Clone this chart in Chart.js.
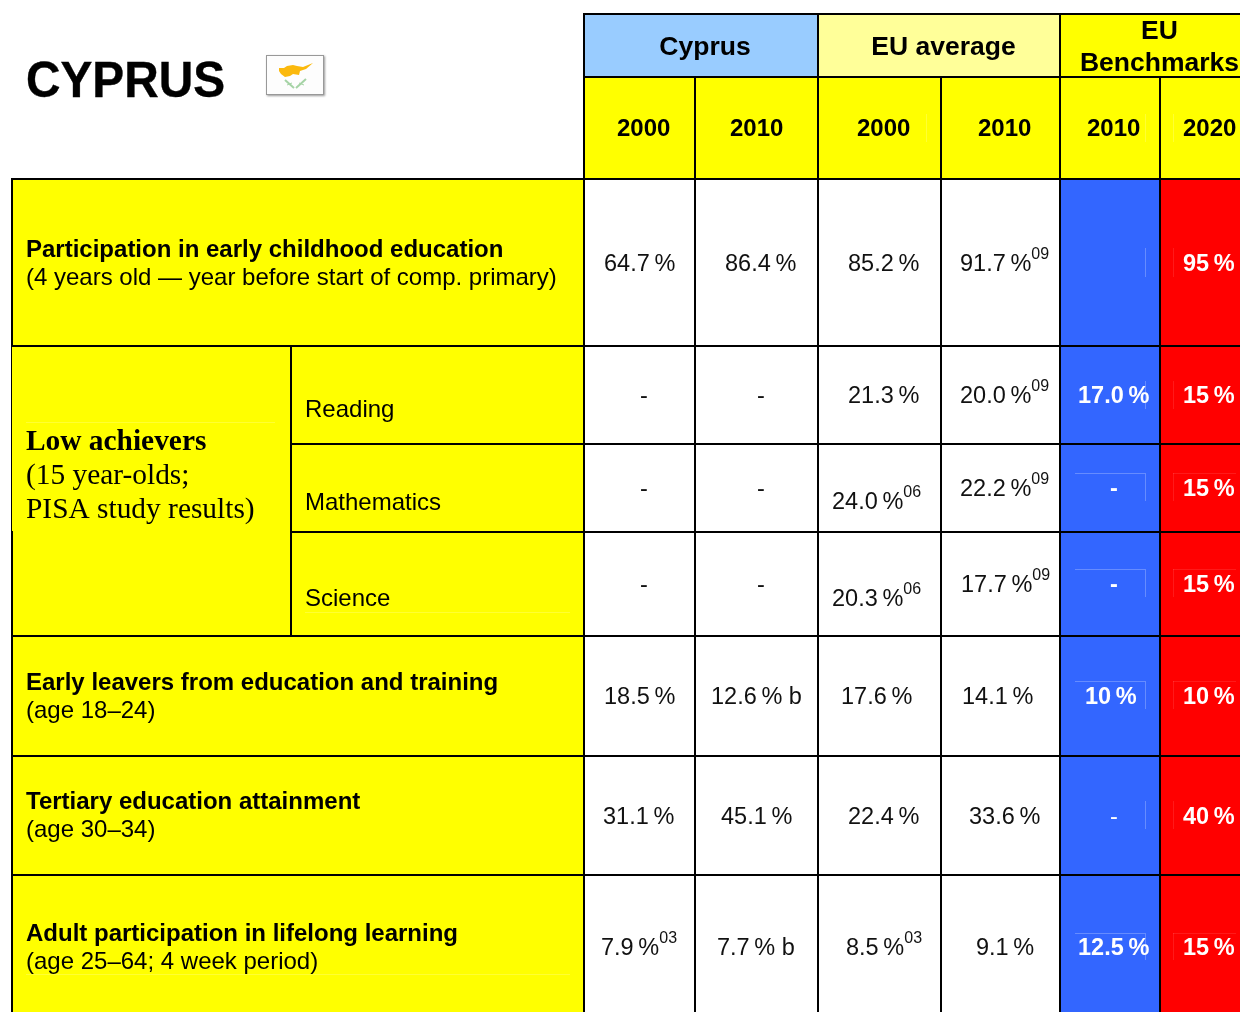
<!DOCTYPE html>
<html>
<head>
<meta charset="utf-8">
<title>Cyprus</title>
<script src="https://cdn.jsdelivr.net/npm/chart.js@4"></script>
<style>
html, body { margin: 0; padding: 0; background: #fff; overflow: hidden; }
canvas { display: block; }
</style>
</head>
<body>
<canvas id="chart" width="1240" height="1012"></canvas>
<script>
// table values, top row to bottom row. ^ marks the footnote year
const cyprus2000 = ['64.7\u2009%', '-', '-', '-', '18.5\u2009%', '31.1\u2009%', '7.9\u2009%^03'];
const cyprus2010 = ['86.4\u2009%', '-', '-', '-', '12.6\u2009% b', '45.1\u2009%', '7.7\u2009% b'];
const eu2000 = ['85.2\u2009%', '21.3\u2009%', '24.0\u2009%^06', '20.3\u2009%^06', '17.6\u2009%', '22.4\u2009%', '8.5\u2009%^03'];
const eu2010 = ['91.7\u2009%^09', '20.0\u2009%^09', '22.2\u2009%^09', '17.7\u2009%^09', '14.1\u2009%', '33.6\u2009%', '9.1\u2009%'];
const bench2010 = ['', '17.0\u2009%', '-', '-', '10\u2009%', '-', '12.5\u2009%'];
const bench2020 = ['95\u2009%', '15\u2009%', '15\u2009%', '15\u2009%', '10\u2009%', '40\u2009%', '15\u2009%'];
const yearLabels = ['2000', '2010', '2000', '2010', '2010', '2020'];
const groupLabels = ['Cyprus', 'EU average'];
const categories = [
    ['Participation in early childhood education', '(4 years old \u2014 year before start of comp. primary)'],
    ['Early leavers from education and training', '(age 18\u201324)'],
    ['Tertiary education attainment', '(age 30\u201334)'],
    ['Adult participation in lifelong learning', '(age 25\u201364; 4 week period)']
];
const subjects = ['Reading', 'Mathematics', 'Science'];

// table layout, in scale units
const colEdges = [12, 291, 584, 695, 818, 941, 1060, 1160, 1240];
const rowEdges = [14, 77, 179, 346, 444, 532, 636, 756, 875, 1012];

// left edge of the text in each value column, per row
const textLeft = [
    [604, 640, 640, 640, 604, 603, 601],
    [725, 757, 757, 757, 711, 721, 717],
    [848, 848, 832, 832, 841, 848, 846],
    [960, 960, 960, 961, 962, 969, 976],
    [1078, 1078, 1110, 1110, 1085, 1110, 1078],
    [1183, 1183, 1183, 1183, 1183, 1183, 1183]
];
const yearLeft = [617, 730, 857, 978, 1087, 1183];
const rowBaseline = [271, 403, 496, 592, 704, 824, 955];
const eu2000Baseline = [271, 403, 509, 606, 704, 824, 955];
const categoryBaseline = [[257, 285], [690, 718], [809, 837], [941, 969]];
const subjectBaseline = [417, 510, 606];

const colors = { cyprus: '#99ccff', euAvg: '#ffff99', yellow: '#ffff00', blue: '#3366ff', red: '#ff0000', white: '#ffffff' };

const valueColumns = [cyprus2000, cyprus2010, eu2000, eu2010, bench2010, bench2020];
const datasets = [];

function addCell(c1, c2, r1, r2, color) {
    datasets.push({
        data: [{ x: (colEdges[c1] + colEdges[c2]) / 2, y: [rowEdges[r1], rowEdges[r2]] }],
        barThickness: colEdges[c2] - colEdges[c1],
        backgroundColor: color,
        borderWidth: 0
    });
}

// header
addCell(2, 4, 0, 1, colors.cyprus);
addCell(4, 6, 0, 1, colors.euAvg);
addCell(6, 8, 0, 1, colors.yellow);
addCell(2, 8, 1, 2, colors.yellow);
// left hand labels
addCell(0, 2, 2, 3, colors.yellow);
addCell(0, 1, 3, 6, colors.yellow);
addCell(1, 2, 3, 4, colors.yellow);
addCell(1, 2, 4, 5, colors.yellow);
addCell(1, 2, 5, 6, colors.yellow);
addCell(0, 2, 6, 7, colors.yellow);
addCell(0, 2, 7, 8, colors.yellow);
addCell(0, 2, 8, 9, colors.yellow);
// value cells
valueColumns.forEach((col, i) => {
    col.forEach((v, j) => {
        let fill = colors.white;
        if (i == 4) fill = colors.blue;
        if (i == 5) fill = colors.red;
        addCell(i + 2, i + 3, j + 2, j + 3, fill);
    });
});

const tablePlugin = {
    id: 'table',
    afterDatasetsDraw(chart) {
        const ctx = chart.ctx;
        const sx = v => chart.scales.x.getPixelForValue(v);
        const sy = v => chart.scales.y.getPixelForValue(v);

        function seg(x1, y1, x2, y2, color, w) {
            ctx.strokeStyle = color;
            ctx.lineWidth = w;
            ctx.beginPath();
            ctx.moveTo(sx(x1), sy(y1));
            ctx.lineTo(sx(x2), sy(y2));
            ctx.stroke();
        }

        // scan marks left in the original cells
        const faintBlue = 'rgba(255,255,255,0.25)';
        const faintRed = 'rgba(255,255,255,0.1)';
        const faintYellow = 'rgba(255,255,255,0.2)';
        [[114, 142], [248, 277], [381, 409], [473, 501], [569, 597], [681, 709], [801, 829], [933, 960]].forEach((s, i) => {
            if (i == 0) {
                seg(926.5, s[0], 926.5, s[1], faintYellow, 1);
                seg(1145.5, s[0], 1145.5, s[1], faintYellow, 1);
                seg(1173.5, s[0], 1173.5, s[1], faintYellow, 1);
                return;
            }
            seg(1145.5, s[0], 1145.5, s[1], faintBlue, 1);
            seg(1173.5, s[0], 1173.5, s[1], faintRed, 1);
            if ([3, 4, 5, 7].includes(i)) {
                seg(1075, s[0] + 0.5, 1145, s[0] + 0.5, faintBlue, 1);
                seg(1173, s[0] + 0.5, 1236, s[0] + 0.5, faintRed, 1);
            }
        });
        seg(26, 422.5, 275, 422.5, faintYellow, 1);
        seg(305, 612.5, 570, 612.5, faintYellow, 1);
        seg(26, 974.5, 570, 974.5, faintYellow, 1);

        // black rules
        const last = colEdges.length - 1;
        seg(colEdges[2], rowEdges[0], colEdges[last], rowEdges[0], '#000', 2);
        seg(colEdges[2], rowEdges[1], colEdges[last], rowEdges[1], '#000', 2);
        seg(colEdges[0], rowEdges[2], colEdges[last], rowEdges[2], '#000', 2);
        [3, 6, 7, 8].forEach(r => seg(colEdges[0], rowEdges[r], colEdges[last], rowEdges[r], '#000', 2));
        [4, 5].forEach(r => seg(colEdges[1], rowEdges[r], colEdges[last], rowEdges[r], '#000', 2));
        // left border is thinner beside the low achievers text
        seg(colEdges[0], rowEdges[2] - 1, colEdges[0], rowEdges[3], '#000', 2);
        seg(colEdges[0] - 0.5, rowEdges[3], colEdges[0] - 0.5, 531, '#000', 1);
        seg(colEdges[0], 531, colEdges[0], rowEdges[9], '#000', 2);
        seg(colEdges[1], rowEdges[3], colEdges[1], rowEdges[6], '#000', 2);
        seg(colEdges[2], rowEdges[0] - 1, colEdges[2], rowEdges[9], '#000', 2);
        seg(colEdges[4], rowEdges[0], colEdges[4], rowEdges[9], '#000', 2);
        seg(colEdges[6], rowEdges[0], colEdges[6], rowEdges[9], '#000', 2);
        [3, 5, 7].forEach(c => seg(colEdges[c], rowEdges[1], colEdges[c], rowEdges[9], '#000', 2));

        // text
        ctx.textBaseline = 'alphabetic';
        function txt(s, x, y, font, color, align) {
            ctx.font = font;
            ctx.fillStyle = color;
            ctx.textAlign = align || 'left';
            ctx.fillText(s, sx(x), sy(y));
        }

        const sans = '"Liberation Sans", Arial, sans-serif';
        const serif = '"Liberation Serif", "Times New Roman", serif';

        // the title is a bit narrower and heavier than plain bold
        ctx.save();
        ctx.translate(sx(26), sy(97));
        ctx.scale(0.955, 1);
        ctx.font = 'bold 50px ' + sans;
        ctx.fillStyle = '#000';
        ctx.strokeStyle = '#000';
        ctx.lineWidth = 0.4;
        ctx.textAlign = 'left';
        ctx.fillText('CYPRUS', 0, 0);
        ctx.strokeText('CYPRUS', 0, 0);
        ctx.restore();

        txt(groupLabels[0], 705, 55, 'bold 26.5px ' + sans, '#000', 'center');
        txt(groupLabels[1], 943.5, 55, 'bold 26.5px ' + sans, '#000', 'center');
        txt('EU', 1159.5, 39, 'bold 26.5px ' + sans, '#000', 'center');
        txt('Benchmarks', 1159.5, 71, 'bold 26.5px ' + sans, '#000', 'center');
        yearLabels.forEach((y, i) => txt(y, yearLeft[i], 136, 'bold 24px ' + sans, '#000'));

        categories.forEach((c, i) => {
            txt(c[0], 26, categoryBaseline[i][0], 'bold 24px ' + sans, '#000');
            txt(c[1], 26, categoryBaseline[i][1], '24px ' + sans, '#000');
        });
        subjects.forEach((s, i) => txt(s, 305, subjectBaseline[i], '24px ' + sans, '#000'));
        txt('Low achievers', 26, 450, 'bold 29.4px ' + serif, '#000');
        txt('(15 year-olds;', 26, 484, '29.4px ' + serif, '#000');
        txt('PISA study results)', 26, 518, '29.4px ' + serif, '#000');

        valueColumns.forEach((col, i) => {
            const white = i >= 4;
            const color = white ? '#fff' : '#111';
            col.forEach((v, j) => {
                if (!v) return;
                // the tertiary benchmark dash is not bold in the original
                const bold = white && !(i == 4 && j == 5);
                const font = (bold ? 'bold ' : '') + '23.5px ' + sans;
                const parts = v.split('^');
                const base = i == 2 ? eu2000Baseline[j] : rowBaseline[j];
                txt(parts[0], textLeft[i][j], base, font, color);
                if (parts[1]) {
                    const w = ctx.measureText(parts[0]).width;
                    txt(parts[1], textLeft[i][j] + w, base - 12, '16px ' + sans, color);
                }
            });
        });

        // small flag next to the title
        ctx.save();
        ctx.shadowColor = 'rgba(0,0,0,0.4)';
        ctx.shadowBlur = 2;
        ctx.shadowOffsetX = 1;
        ctx.shadowOffsetY = 1;
        ctx.fillStyle = '#fdfdfd';
        ctx.fillRect(sx(266), sy(55), 58, 40);
        ctx.restore();
        ctx.strokeStyle = '#999';
        ctx.lineWidth = 1;
        ctx.strokeRect(sx(266.5), sy(55.5), 57, 39);
        ctx.fillStyle = '#fbb90d';
        ctx.beginPath();
        [[279, 68], [284, 68], [287, 66], [293, 65], [297, 66], [303, 67], [313, 63], [306, 69], [300, 71], [299, 75], [293, 74], [290, 76], [285, 77], [281, 74], [279, 71]]
            .forEach((p, i) => i == 0 ? ctx.moveTo(sx(p[0]), sy(p[1])) : ctx.lineTo(sx(p[0]), sy(p[1])));
        ctx.closePath();
        ctx.fill();
        seg(285, 80, 294, 88, '#a5d3a5', 2);
        seg(306, 79, 296, 88, '#a5d3a5', 2);
        seg(287, 85, 292, 83, '#a5d3a5', 1);
        seg(304, 85, 299, 83, '#a5d3a5', 1);
    }
};

new Chart(document.getElementById('chart').getContext('2d'), {
    type: 'bar',
    data: { datasets: datasets },
    options: {
        responsive: false,
        animation: false,
        grouped: false,
        layout: { padding: 0 },
        plugins: { legend: { display: false }, title: { display: false }, tooltip: { enabled: false } },
        scales: {
            x: { type: 'linear', min: 0, max: 1240, offset: false, display: false },
            y: { type: 'linear', min: 0, max: 1012, reverse: true, display: false }
        }
    },
    plugins: [tablePlugin]
});
</script>
</body>
</html>
